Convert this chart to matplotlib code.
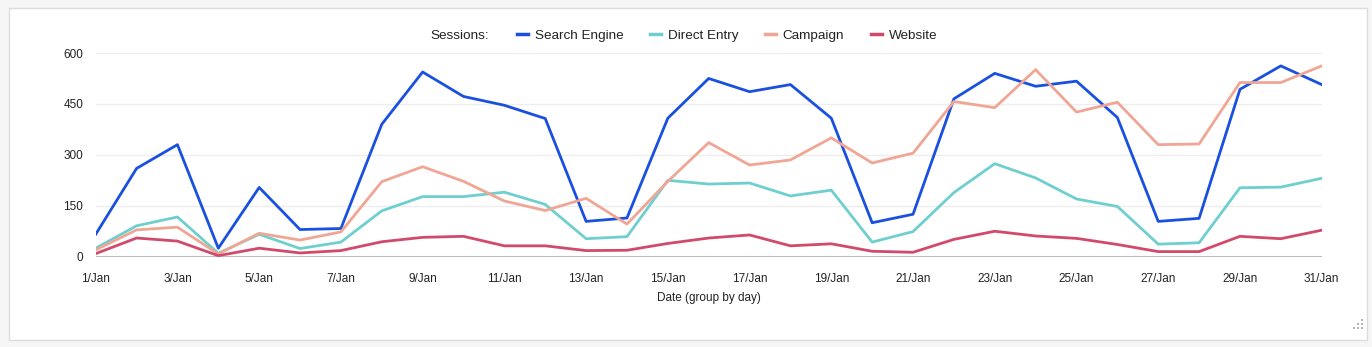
import matplotlib
matplotlib.use("Agg")
import matplotlib.pyplot as plt
from matplotlib.patches import Rectangle
from matplotlib.lines import Line2D

plt.rcParams["font.family"] = ["Liberation Sans", "DejaVu Sans"]

days = list(range(1, 32))
search_engine = [66, 260, 330, 25, 204, 80, 83, 390, 544, 472, 446, 407, 104, 114, 408,
                 525, 486, 507, 408, 100, 125, 465, 540, 502, 517, 410, 104, 113, 493, 562, 507]
direct_entry = [25, 91, 117, 10, 66, 24, 43, 135, 177, 177, 190, 154, 53, 59, 225,
                214, 217, 179, 196, 43, 74, 189, 274, 232, 170, 148, 37, 41, 203, 205, 231]
campaign = [20, 79, 87, 8, 69, 49, 73, 221, 265, 222, 164, 136, 172, 96, 222,
            336, 270, 285, 350, 276, 305, 457, 439, 551, 426, 455, 330, 332, 513, 513, 562]
website = [9, 55, 46, 3, 25, 11, 18, 44, 57, 60, 32, 32, 18, 19, 39,
           55, 64, 32, 38, 16, 13, 51, 75, 61, 54, 36, 15, 15, 60, 53, 78]

series = [
    ("Search Engine", search_engine, "#1a50e0"),
    ("Direct Entry", direct_entry, "#6fcfcf"),
    ("Campaign", campaign, "#f0a694"),
    ("Website", website, "#d24a6b"),
]

yticks = [0, 150, 300, 450, 600]
xticks = list(range(1, 32, 2))
xticklabels = [f"{d}/Jan" for d in xticks]

W, H = 1372, 347
fig = plt.figure(figsize=(W / 100, H / 100), dpi=100, facecolor="#f6f6f6")

# white card behind the chart
fig.patches.append(Rectangle((9 / W, 1 - 340 / H), (1367 - 9) / W, (340 - 8) / H,
                             transform=fig.transFigure, facecolor="white",
                             edgecolor="#dcdcdc", linewidth=1, zorder=-10))

ax = fig.add_axes([95.7 / W, 1 - 256.7 / H, (1321.7 - 95.7) / W, (256.7 - 53) / H])
ax.set_facecolor("none")
ax.set_zorder(1)

for name, vals, col in series:
    ax.plot(days, vals, color=col, linewidth=2, label=name, zorder=3)

ax.set_xlim(1, 31)
ax.set_ylim(0, 600)
ax.set_yticks(yticks)
ax.set_yticklabels([str(v) for v in yticks])
ax.set_xticks(xticks)
ax.set_xticklabels(xticklabels)
ax.tick_params(axis="both", length=0, labelsize=8.5, colors="#222222")
ax.tick_params(axis="x", pad=12)
ax.tick_params(axis="y", pad=9)
for v in yticks[1:]:
    ax.axhline(v, color="#eeeeee", linewidth=1, zorder=1)
ax.axhline(0, color="#bdbdbd", linewidth=2.2, zorder=2)
for spine in ax.spines.values():
    spine.set_visible(False)

ax.set_xlabel("Date (group by day)", fontsize=8.5, color="#222222", labelpad=5)

# legend row across the top
handles = [Line2D([], [], color=col, linewidth=2.5) for _, _, col in series]
fig.legend(handles, [s[0] for s in series], loc="center",
           bbox_to_anchor=(727 / W, 1 - 35.5 / H), ncol=4, frameon=False,
           fontsize=9.7, handlelength=0.8, handletextpad=0.5,
           columnspacing=2.0, labelcolor="#222222")
fig.text(459.5 / W, 1 - 36 / H, "Sessions:", ha="center", va="center",
         fontsize=9.7, color="#222222")

# resize grip in the corner
grip = [(1362, 320), (1358, 324), (1362, 324), (1354, 328), (1358, 328), (1362, 328)]
fig.add_artist(Line2D([p[0] / W for p in grip], [1 - p[1] / H for p in grip],
                      transform=fig.transFigure, linestyle="none", marker="s",
                      markersize=1.6, color="#b5b5b5", markeredgewidth=0))

fig.savefig("out.png", dpi=100, facecolor=fig.get_facecolor())
